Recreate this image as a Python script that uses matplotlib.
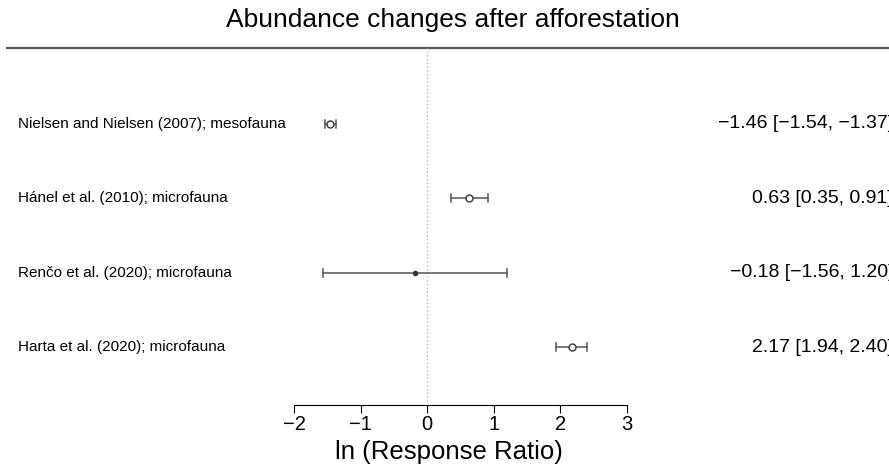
import numpy as np
import matplotlib.pyplot as plt

studies = ["Nielsen and Nielsen (2007); mesofauna",
           "Hánel et al. (2010); microfauna",
           "Renčo et al. (2020); microfauna",
           "Harta et al. (2020); microfauna"]
est = [-1.46, 0.63, -0.18, 2.17]
ci_lo = [-1.54, 0.35, -1.56, 1.94]
ci_hi = [-1.37, 0.91, 1.20, 2.40]
ticks = [-2, -1, 0, 1, 2, 3]


def fmt(v):
    return f"{v:.2f}".replace("-", "\u2212")


def main():
    plt.rcParams['font.family'] = ['Liberation Sans', 'DejaVu Sans']
    fig = plt.figure(figsize=(8.89, 4.68), dpi=100)
    ax = fig.add_axes([0, 0, 1, 1])

    # pixel mapping: -2 -> 294px, 3 -> 627px ; rows at 124,199,272,347px
    ppu = (627 - 294) / 5.0
    x0 = -2 - 294 / ppu
    x1 = 3 + (889 - 294) / ppu - 5
    rs = (347 - 124) / 3.0
    ax.set_xlim(x0, x1)
    ax.set_ylim(1 - (468 - 347) / rs, 4 + 124 / rs)

    n = len(studies)
    ys = np.arange(n, 0, -1)
    y_top = 4 + (124 - 48) / rs
    y_axis = 1 - (405 - 347) / rs

    ax.plot([x0 + 6 / ppu, x1], [y_top, y_top], color="#555555", lw=1.6,
            solid_capstyle="butt")
    ax.plot([0, 0], [y_axis + 0.05, y_top], color="#aaaaaa", lw=0.9,
            ls=(0, (1, 2)))

    for i in range(n):
        y = ys[i]
        ax.plot([ci_lo[i], ci_hi[i]], [y, y], color="#555555", lw=1.1)
        for c in (ci_lo[i], ci_hi[i]):
            ax.plot([c, c], [y - 0.055, y + 0.055], color="#555555", lw=1.1)
        if i == 2:
            ax.plot(est[i], y, "o", ms=3, color="#333333")
        else:
            ax.plot(est[i], y, "o", ms=5, mfc="white", mec="#444444",
                    mew=1.1)
        ax.text(x0 + 18 / ppu, y, studies[i], ha="left", va="center",
                fontsize=11)
        # right column runs off the edge, as in the original
        ax.text(x0 + 893 / ppu, y,
                f"{fmt(est[i])} [{fmt(ci_lo[i])}, {fmt(ci_hi[i])}]",
                ha="right", va="center", fontsize=14)

    for s in ("top", "left", "right"):
        ax.spines[s].set_visible(False)
    ax.spines["bottom"].set_position(("data", y_axis))
    ax.spines["bottom"].set_bounds(-2, 3)
    ax.set_xticks(ticks)
    ax.set_xticklabels([str(t).replace("-", "\u2212") for t in ticks],
                       fontsize=14.5)
    ax.tick_params(axis="x", length=6, pad=1)
    ax.set_yticks([])

    # x label, placed by hand under the tick labels
    ax.text(22 / ppu, 1 - (452 - 347) / rs, "ln (Response Ratio)",
            ha="center", va="center", fontsize=18.5)

    ax.text((x0 + x1) / 2 + 8 / ppu, 4 + (124 - 20) / rs,
            "Abundance changes after afforestation", ha="center",
            va="center", fontsize=19)

    fig.savefig("out.png", dpi=100)


if __name__ == '__main__':
    main()
